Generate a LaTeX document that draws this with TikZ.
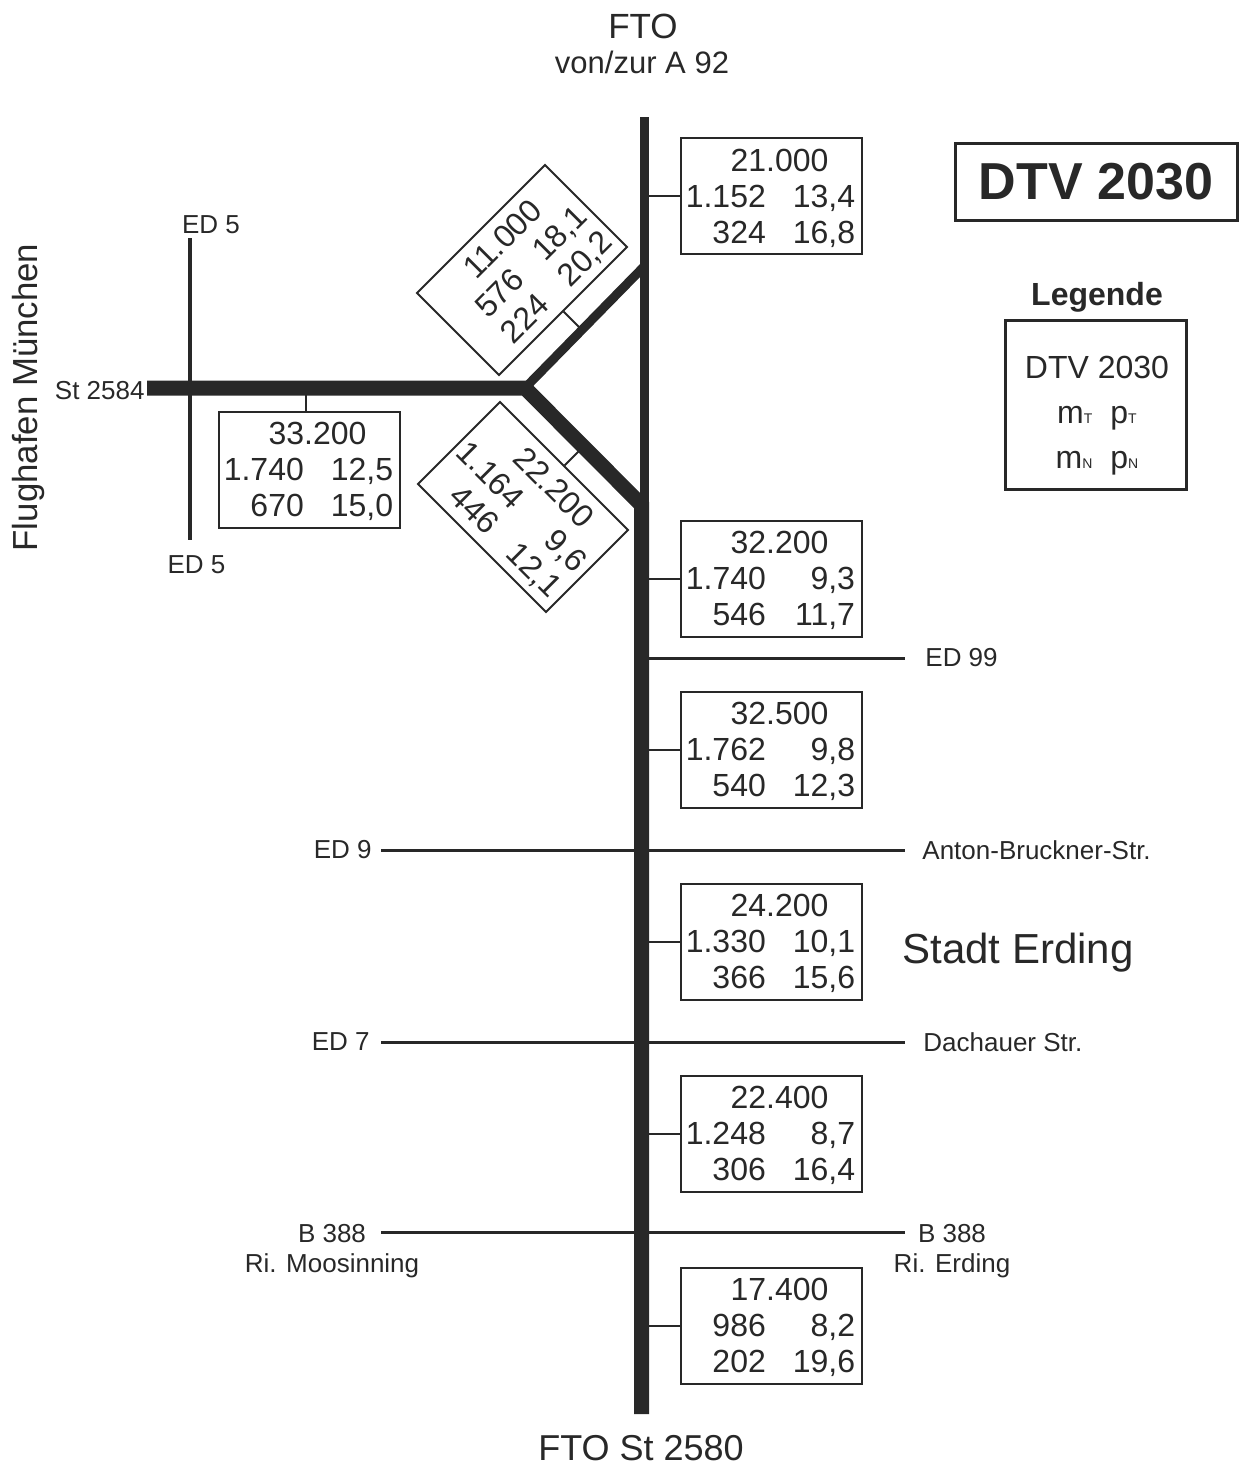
\documentclass[tikz,border=0pt]{standalone}
\usepackage{fontspec}
\setmainfont{Liberation Sans}
\usetikzlibrary{positioning}

\definecolor{dunkel}{HTML}{282828}

% Inhalt einer Zaehlstelle: DTV, m_T p_T, m_N p_N
\newcommand{\werte}[5]{%
  \raisebox{-2pt}[\height][\depth]{%
  \begin{tabular}{@{}r@{\hspace{13.5pt}}r@{}}
    \multicolumn{2}{@{}c@{}}{\hspace{8pt}#1}\\
    \makebox[39pt][r]{#2} & \makebox[31pt][r]{#3}\\
    #4 & #5
  \end{tabular}}}
% kleiner Index fuer die Legende
\newcommand{\lsub}[1]{{\fontsize{7pt}{7pt}\selectfont #1}}

\tikzset{
  hauptstr/.style={line width=7.5pt, line join=miter},
  obenstr/.style={line width=4.5pt},
  nebenstr/.style={line width=1.5pt},
  abzweig/.style={line width=1pt},
  wertbox/.style={draw, line width=1pt, fill=white, inner sep=0pt,
    minimum width=90.5pt, minimum height=58pt,
    font=\fontsize{16pt}{18pt}\selectfont},
  strlbl/.style={inner sep=0pt, font=\fontsize{13pt}{15pt}\selectfont},
  titelbox/.style={draw, line width=1.5pt, inner sep=0pt,
    minimum width=141pt, minimum height=38.5pt,
    font=\fontsize{26pt}{30pt}\selectfont\bfseries},
  legbox/.style={draw, line width=1.5pt, minimum width=90.5pt, minimum height=84.5pt}
}

\begin{document}
\begin{tikzpicture}[x=0.5pt, y=-0.5pt, color=dunkel]
    \useasboundingbox (0,0) rectangle (1244,1467);

    % --- Achse der FTO ---
    % oberer Abschnitt etwas schmaler als der untere
    \def\xo{644.5}
    \def\xu{641.5}
    \coordinate (fto)  at (\xo,117);
    \coordinate (knoA) at (\xo,266);
    \coordinate (knoW) at (525,388);
    \coordinate (knoB) at (\xu,505);
    \coordinate (st80) at (\xu,1414);
    \coordinate (stW)  at (147,388);

    \draw[obenstr] (fto) -- (fto |- knoB);
    \draw[obenstr] (knoW) -- (knoA);
    \draw[hauptstr] (stW) -- (knoW) -- (knoB) -- (st80);

    % --- ED 5 ---
    \coordinate (ed5n) at (190,238);
    \coordinate (ed5s) at (190,540);
    \draw[line width=2pt] (ed5n) -- (ed5s);
    \node[strlbl] (ed5o) at (211,225) {ED 5};
    \node[strlbl] (ed5u) at (196.5,565) {ED 5};
    \node[strlbl, anchor=east] (st84) at (145,391) {St 2584};

    % --- Querstrassen ---
    \coordinate (ed99w) at (\xu,658);
    \coordinate (ed99o) at (905,658);
    \draw[nebenstr] (ed99w) -- (ed99o);
    \node[strlbl, right=10pt of ed99o] (ed99) {ED 99};

    \coordinate (ed9w) at (381,850);
    \coordinate (ed9o) at (905,850);
    \draw[nebenstr] (ed9w) -- (ed9o);
    \node[strlbl, left=4.5pt of ed9w] (ed9) {ED 9};
    \node[strlbl, right=8.5pt of ed9o] (abs) {Anton-Bruckner-Str.};

    \coordinate (ed7w) at (381,1042);
    \coordinate (ed7o) at (905,1042);
    \draw[nebenstr] (ed7w) -- (ed7o);
    \node[strlbl, left=5.5pt of ed7w] (ed7) {ED 7};
    \node[strlbl, right=9pt of ed7o] (dach) {Dachauer Str.};

    \coordinate (b388w) at (381,1232);
    \coordinate (b388o) at (905,1232);
    \draw[nebenstr] (b388w) -- (b388o);
    \node[strlbl, align=center] (moos) at (332,1251) {B 388\\Ri. Moosinning};
    \node[strlbl, align=center] (erd) at (952,1251) {B 388\\Ri. Erding};

    % --- Zaehlstellen ---
    \node[wertbox] (b1) at (771.5,196)    {\werte{21.000}{1.152}{13,4}{324}{16,8}};
    \node[wertbox] (b2) at (771.5,578.5)  {\werte{32.200}{1.740}{9,3}{546}{11,7}};
    \node[wertbox] (b3) at (771.5,749.5)  {\werte{32.500}{1.762}{9,8}{540}{12,3}};
    \node[wertbox] (b4) at (771.5,941.5)  {\werte{24.200}{1.330}{10,1}{366}{15,6}};
    \node[wertbox] (b5) at (771.5,1133.5) {\werte{22.400}{1.248}{8,7}{306}{16,4}};
    \node[wertbox] (b6) at (771.5,1325.5) {\werte{17.400}{986}{8,2}{202}{19,6}};
    \foreach \b in {b1,b2,b3,b4,b5,b6}
        \draw[abzweig] (\b.west) -- (\b.west -| knoB);

    \node[wertbox] (bl) at (309.5,469.5) {\werte{33.200}{1.740}{12,5}{670}{15,0}};
    \draw[abzweig] ([xshift=-2pt]bl.north) -- ([xshift=-2pt]bl.north |- stW);

    % gedrehte Kaesten an den Rampen
    \node[wertbox, rotate=45]  (bo) at (522,270) {\werte{11.000}{576}{18,1}{224}{20,2}};
    \node[wertbox, rotate=-45] (bu) at (523,507) {\werte{22.200}{1.164}{9,6}{446}{12,1}};
    \draw[abzweig] (bo.south) -- ++(17,17);
    \draw[abzweig] (bu.north) -- ++(14,-14);

    % --- Beschriftungen ---
    \node[inner sep=0pt, font=\fontsize{17.5pt}{20pt}\selectfont] (ftoT) at (643,26) {FTO};
    \node[inner sep=0pt, font=\fontsize{15.5pt}{18pt}\selectfont] (a92) at (642,62) {von/zur A 92};
    \node[inner sep=0pt, font=\fontsize{18pt}{20pt}\selectfont] (ftoB) at (641,1448) {FTO St 2580};
    \node[inner sep=0pt, rotate=90, font=\fontsize{17.4pt}{20pt}\selectfont] (flug) at (28.5,397.5) {Flughafen München};
    \node[inner sep=0pt, font=\fontsize{21pt}{24pt}\selectfont] (stadt) at (1018,953) {Stadt Erding};

    % --- Titel und Legende ---
    \node[titelbox] (titel) at (1096,181.5) {DTV 2030};
    \node[inner sep=0pt, font=\fontsize{16pt}{18pt}\selectfont\bfseries] (legT) at (1097,297) {Legende};
    \node[legbox] (leg) at (1095.5,404.5) {};
    \node[inner sep=0pt, align=center, font=\fontsize{16pt}{22.5pt}\selectfont] (legtxt) at (1097,416)
        {DTV 2030\\m\lsub{T}\hspace{9pt}p\lsub{T}\\m\lsub{N}\hspace{9pt}p\lsub{N}};

\end{tikzpicture}
\end{document}
